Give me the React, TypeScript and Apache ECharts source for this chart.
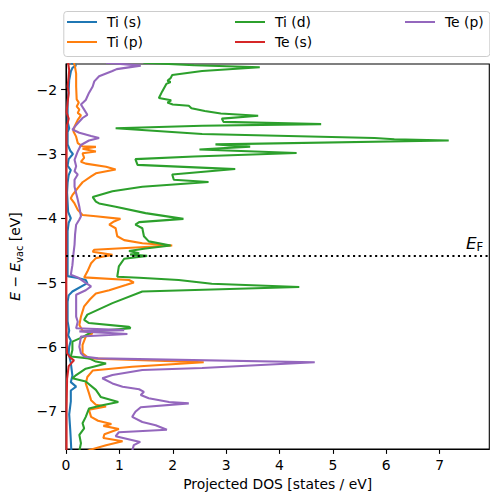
import React, { useEffect, useRef } from "react";
import * as echarts from "echarts";

// ---- data: [projected DOS (states/eV), E - E_vac (eV)] ----
const tiS: number[][] = [
  [0.10, -1.58], [0.19, -1.62], [0.12, -1.66], [0.09, -1.72], [0.06, -1.85], [0.05, -2.0], [0.03, -2.2],
  [0.03, -2.5], [0.06, -2.6], [0.03, -2.66], [0.03, -2.85], [0.08, -2.95], [0.13, -3.0], [0.05, -3.08],
  [0.03, -3.18], [0.09, -3.25], [0.05, -3.33], [0.03, -3.45], [0.02, -3.6], [0.03, -3.75], [0.04, -3.9],
  [0.09, -4.0], [0.05, -4.07], [0.03, -4.2], [0.03, -4.5], [0.03, -4.7], [0.03, -4.9], [0.22, -4.93],
  [0.37, -4.96], [0.40, -5.01], [0.12, -5.14], [0.05, -5.2], [0.03, -5.3], [0.03, -5.6], [0.06, -5.75],
  [0.04, -5.82], [0.09, -5.9], [0.06, -6.0], [0.05, -6.1], [0.09, -6.25], [0.12, -6.45], [0.09, -6.55],
  [0.19, -6.62], [0.09, -6.68], [0.09, -6.85], [0.06, -7.05], [0.08, -7.3], [0.09, -7.45], [0.10, -7.62],
];

const tiP: number[][] = [
  [0.15, -1.58], [0.17, -1.65], [0.19, -1.75], [0.19, -1.95], [0.2, -2.15], [0.24, -2.2], [0.2, -2.26],
  [0.25, -2.31], [0.22, -2.36], [0.28, -2.4], [0.22, -2.47], [0.16, -2.57], [0.14, -2.65], [0.19, -2.73],
  [0.22, -2.83], [0.31, -2.88], [0.56, -2.89], [0.31, -2.92], [0.56, -2.96], [0.31, -2.99], [0.34, -3.06],
  [0.28, -3.12], [0.37, -3.15], [0.75, -3.2], [0.93, -3.24], [0.56, -3.3], [0.47, -3.35], [0.31, -3.44],
  [0.22, -3.53], [0.12, -3.64], [0.09, -3.69], [0.16, -3.77], [0.22, -3.87], [0.31, -3.95], [0.56, -3.97],
  [1.02, -4.01], [0.9, -4.05], [0.81, -4.1], [0.93, -4.155], [0.96, -4.28], [1.09, -4.34], [1.43, -4.39],
  [1.99, -4.425], [0.53, -4.49], [0.5, -4.52], [0.87, -4.57], [0.68, -4.6], [0.56, -4.62], [0.47, -4.7],
  [0.4, -4.83], [0.34, -4.92], [1.18, -4.96], [1.27, -5.0], [1.12, -5.04], [0.81, -5.12], [0.56, -5.17],
  [0.45, -5.26], [0.34, -5.37], [0.28, -5.53], [0.25, -5.66], [0.31, -5.75], [0.5, -5.79], [0.37, -5.84],
  [0.31, -5.97], [0.31, -6.1], [0.43, -6.18], [2.58, -6.24], [1.24, -6.31], [0.5, -6.37], [0.4, -6.47],
  [0.37, -6.57], [0.43, -6.72], [0.47, -6.83], [0.56, -6.9], [0.75, -6.93], [0.43, -6.98], [0.47, -7.09],
  [0.6, -7.15], [0.85, -7.2], [0.7, -7.23], [0.99, -7.28], [0.72, -7.36], [0.7, -7.42], [1.06, -7.47],
  [0.75, -7.53], [0.46, -7.6], [0.4, -7.62],
];

const tiD: number[][] = [
  [1.45, -1.58], [2.4, -1.62], [3.63, -1.65], [2.55, -1.71], [1.99, -1.77], [1.96, -1.82], [1.9, -1.86],
  [1.96, -1.88], [1.88, -1.91], [1.8, -2.03], [1.74, -2.13], [1.97, -2.165], [1.9, -2.2], [2.0, -2.23],
  [2.3, -2.25], [2.35, -2.29], [2.6, -2.33], [2.9, -2.37], [3.6, -2.405], [2.92, -2.45], [2.95, -2.5],
  [4.78, -2.535], [2.55, -2.56], [0.93, -2.6], [2.55, -2.69], [5.78, -2.75], [6.15, -2.77], [7.17, -2.79],
  [2.8, -2.85], [3.45, -2.885], [2.5, -2.93], [4.32, -2.985], [2.4, -3.04], [1.3, -3.08], [1.34, -3.17],
  [3.17, -3.235], [1.99, -3.32], [2.02, -3.4], [2.67, -3.435], [1.43, -3.51], [0.87, -3.58], [0.5, -3.67],
  [0.56, -3.74], [0.62, -3.77], [0.93, -3.82], [1.49, -3.92], [2.2, -4.01], [1.37, -4.06], [1.3, -4.1],
  [1.43, -4.155], [1.46, -4.28], [1.55, -4.36], [1.96, -4.425], [1.49, -4.47], [1.18, -4.51], [1.37, -4.545],
  [1.2, -4.565], [1.52, -4.585], [1.09, -4.63], [0.99, -4.75], [0.96, -4.91], [1.37, -4.925], [2.11, -4.96],
  [2.73, -5.02], [4.37, -5.07], [1.43, -5.14], [0.87, -5.32], [0.4, -5.5], [0.34, -5.58], [0.43, -5.63],
  [1.18, -5.69], [1.21, -5.71], [0.5, -5.76], [0.31, -5.85], [0.12, -5.92], [0.12, -6.05], [0.09, -6.15],
  [0.43, -6.18], [0.56, -6.23], [0.75, -6.26], [0.37, -6.34], [0.19, -6.44], [0.12, -6.49], [0.37, -6.54],
  [0.56, -6.67], [0.65, -6.78], [0.98, -6.86], [0.68, -6.91], [0.43, -6.96], [0.37, -7.09], [0.31, -7.19],
  [0.34, -7.27], [0.25, -7.37], [0.28, -7.5], [0.25, -7.62],
];

const teS: number[][] = [
  [0.04, -1.58], [0.06, -1.7], [0.05, -1.8], [0.03, -1.95], [0.05, -2.05], [0.03, -2.2], [0.01, -2.35],
  [0.05, -2.45], [0.02, -2.55], [0.01, -2.7], [0.01, -3.0], [0.005, -4.0], [0.005, -5.0], [0.01, -5.8],
  [0.02, -6.1], [0.08, -6.17], [0.15, -6.21], [0.05, -6.3], [0.02, -6.5], [0.01, -7.0], [0.01, -7.62],
];

const teP: number[][] = [
  [0.75, -1.58], [1.4, -1.625], [0.95, -1.68], [0.87, -1.71], [0.62, -1.79], [0.53, -1.87], [0.5, -1.95],
  [0.43, -2.05], [0.37, -2.16], [0.28, -2.23], [0.34, -2.31], [0.4, -2.39], [0.31, -2.44], [0.19, -2.55],
  [0.12, -2.62], [0.25, -2.67], [0.47, -2.72], [0.62, -2.75], [0.43, -2.79], [0.28, -2.86], [0.22, -2.96],
  [0.16, -3.09], [0.19, -3.19], [0.16, -3.27], [0.22, -3.32], [0.16, -3.4], [0.16, -3.51], [0.19, -3.61],
  [0.22, -3.71], [0.25, -3.82], [0.28, -3.97], [0.25, -4.02], [0.19, -4.1], [0.17, -4.25], [0.16, -4.41],
  [0.14, -4.55], [0.12, -4.73], [0.09, -4.88], [0.22, -4.92], [0.34, -4.99], [0.47, -5.06], [0.37, -5.12],
  [0.19, -5.19], [0.19, -5.43], [0.19, -5.53], [0.22, -5.61], [0.19, -5.71], [1.09, -5.74], [0.25, -5.76],
  [1.15, -5.8], [0.28, -5.84], [0.25, -6.0], [0.28, -6.1], [0.34, -6.15], [0.6, -6.18], [4.66, -6.24],
  [2.55, -6.33], [1.43, -6.36], [0.87, -6.44], [0.68, -6.49], [0.87, -6.57], [1.06, -6.62], [1.37, -6.66],
  [1.46, -6.7], [1.4, -6.75], [1.55, -6.8], [1.93, -6.86], [2.3, -6.88], [1.4, -6.94], [1.3, -7.01],
  [1.27, -7.05], [1.24, -7.09], [1.43, -7.17], [1.68, -7.22], [1.89, -7.29], [0.99, -7.33], [0.93, -7.39],
  [1.39, -7.48], [1.27, -7.53], [1.24, -7.62],
];

const seriesNames = ["Ti (s)", "Ti (p)", "Ti (d)", "Te (s)", "Te (p)"];
const seriesData = [tiS, tiP, tiD, teS, teP];
const seriesColors = ["#1f77b4", "#ff7f0e", "#2ca02c", "#d62728", "#9467bd"];
const legendColumns = [["Ti (s)", "Ti (p)"], ["Ti (d)", "Te (s)"], ["Te (p)"]];

const fermiLevel = -4.59;
const xTicks = [0, 1, 2, 3, 4, 5, 6, 7];
const yTicks = [-7, -6, -5, -4, -3, -2];
const xRange = [0, 7.93];
const yRange = [-7.59, -1.6];

const FONT = "DejaVu Sans";
const FS = 13.9;

export default function App() {
  const ref = useRef<HTMLDivElement>(null);
  useEffect(() => {
    if (!ref.current) return;
    const chart = echarts.init(ref.current, undefined, { renderer: "svg" });
    const legendLefts = [67, 235, 405];
    const option: any = {
      animation: false,
      backgroundColor: "#ffffff",
      textStyle: { fontFamily: FONT },
      grid: {
        left: 63.3,
        right: 8.7,
        top: 64,
        bottom: 53,
        show: true,
        borderColor: "#000",
        borderWidth: 1.1,
        backgroundColor: "transparent",
      },
      graphic: [
        {
          type: "rect",
          left: 63.3,
          top: 11,
          shape: { width: 426, height: 45, r: 3 },
          style: { fill: "rgba(255,255,255,0.8)", stroke: "#cccccc", lineWidth: 1 },
          z: 0,
        },
      ],
      legend: legendColumns.map((names, i) => ({
        data: names,
        orient: "vertical",
        left: legendLefts[i],
        top: 12,
        padding: 0,
        itemGap: 0,
        itemWidth: 30,
        itemHeight: 2,
        icon: "rect",
        selectedMode: false,
        textStyle: { fontFamily: FONT, fontSize: FS, color: "#000", lineHeight: 20, padding: [0, 0, 0, 5] },
      })),
      xAxis: {
        type: "value",
        min: xRange[0],
        max: xRange[1],
        name: "Projected DOS [states / eV]",
        nameLocation: "middle",
        nameGap: 26,
        nameTextStyle: { fontFamily: FONT, fontSize: FS, color: "#000" },
        axisLine: { show: true, onZero: false, lineStyle: { color: "#000", width: 1.1 } },
        axisTick: { show: true, length: 4.9, lineStyle: { color: "#000", width: 1.1 }, customValues: xTicks },
        axisLabel: { customValues: xTicks, color: "#000", fontFamily: FONT, fontSize: FS, margin: 9 },
        splitLine: { show: false },
      },
      yAxis: {
        type: "value",
        min: yRange[0],
        max: yRange[1],
        name: "{i|E} \u2212 {i|E}{s|vac} [eV]",
        nameLocation: "middle",
        nameGap: 42,
        nameRotate: 90,
        nameTextStyle: {
          fontFamily: FONT,
          fontSize: FS,
          color: "#000",
          rich: {
            i: { fontFamily: FONT, fontSize: FS, fontStyle: "italic", color: "#000", lineHeight: 18 },
            s: { fontFamily: FONT, fontSize: 9.7, color: "#000", verticalAlign: "bottom", lineHeight: 12 },
          },
        },
        axisLine: { show: true, onZero: false, lineStyle: { color: "#000", width: 1.1 } },
        axisTick: { show: true, length: 4.9, lineStyle: { color: "#000", width: 1.1 }, customValues: yTicks },
        axisLabel: {
          customValues: yTicks,
          color: "#000",
          fontFamily: FONT,
          fontSize: FS,
          margin: 9,
          formatter: (v: number) => String(v).replace("-", "\u2212"),
        },
        splitLine: { show: false },
      },
      series: seriesNames.map((name, i) => ({
        name,
        type: "line",
        data: seriesData[i],
        showSymbol: false,
        symbol: "none",
        clip: true,
        color: seriesColors[i],
        lineStyle: { color: seriesColors[i], width: 2.08 },
        emphasis: { disabled: true },
        ...(i === seriesNames.length - 1
          ? {
              markLine: {
                silent: true,
                symbol: "none",
                lineStyle: { color: "#000", type: [2.08, 3.44], width: 2.08 },
                data: [{ yAxis: fermiLevel }],
                label: {
                  show: true,
                  position: "insideEndTop",
                  distance: [6, 3],
                  formatter: "{e|E}{f|F}",
                  rich: {
                    e: { fontFamily: FONT, fontSize: 16.7, fontStyle: "italic", color: "#000", lineHeight: 20 },
                    f: { fontFamily: FONT, fontSize: 11.7, color: "#000", verticalAlign: "bottom", lineHeight: 14 },
                  },
                },
              },
            }
          : {}),
      })),
    };
    chart.setOption(option);
    return () => chart.dispose();
  }, []);
  return <div ref={ref} style={{ width: 498, height: 502, margin: -8 }} />;
}
